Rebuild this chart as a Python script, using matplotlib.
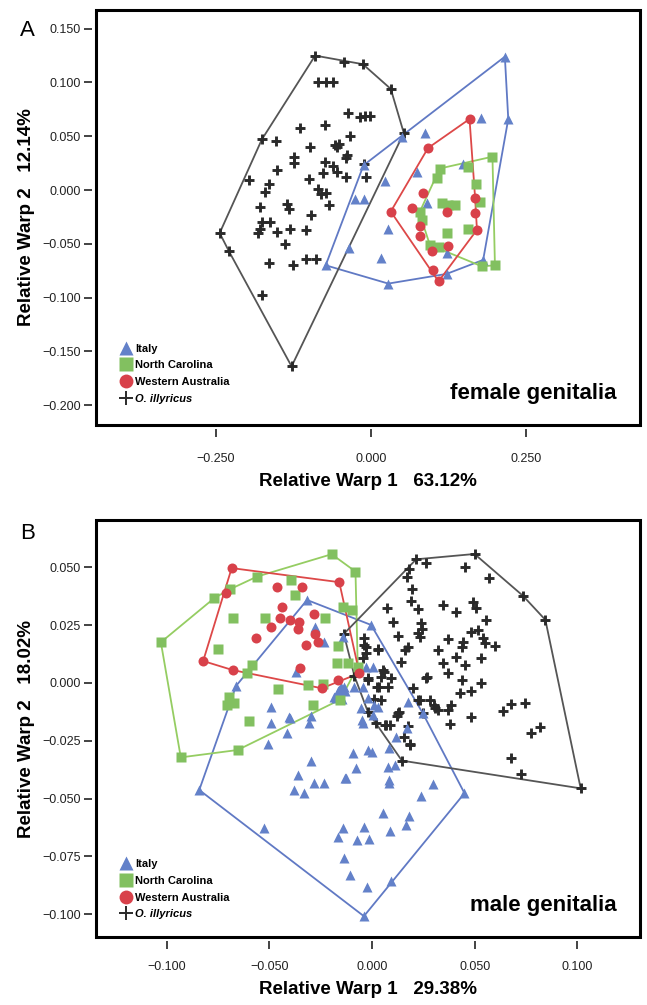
import matplotlib
matplotlib.use("Agg")
import matplotlib.pyplot as plt
import matplotlib.ticker as mticker
from matplotlib.patches import Rectangle
from matplotlib.lines import Line2D
import numpy as np

plt.rcParams['font.family'] = ['Liberation Sans', 'DejaVu Sans']

# ---- panel A: female genitalia ----
a_italy_x = [0.216, 0.2215, 0.177, 0.088, 0.050, -0.012, 0.075, 0.149, 0.023, -0.026, -0.012, 0.090,
             0.028, -0.036, 0.016, -0.073, 0.028, 0.122, 0.122, 0.181]
a_italy_y = [0.124, 0.066, 0.067, 0.053, 0.049, 0.023, 0.017, 0.024, 0.008, -0.008, -0.008, -0.012,
             -0.036, -0.054, -0.063, -0.070, -0.087, -0.059, -0.078, -0.065]

a_nc_x = [0.196, 0.111, 0.157, 0.107, 0.169, 0.114, 0.125, 0.136, 0.176, 0.079, 0.082, 0.122, 0.157,
          0.095, 0.109, 0.179, 0.200]
a_nc_y = [0.031, 0.020, 0.021, 0.011, 0.006, -0.012, -0.014, -0.014, -0.011, -0.020, -0.028, -0.040,
          -0.036, -0.051, -0.053, -0.071, -0.070]

a_wa_x = [0.159, 0.092, 0.084, 0.032, 0.067, 0.123, 0.168, 0.168, 0.171, 0.079, 0.079, 0.098, 0.125,
          0.100, 0.109]
a_wa_y = [0.066, 0.039, -0.003, -0.020, -0.017, -0.020, -0.007, -0.021, -0.037, -0.033, -0.043, -0.057,
          -0.052, -0.074, -0.085]

a_oi_x = [-0.090, -0.044, -0.013, 0.032, -0.085, -0.073, -0.062, -0.037, -0.018, -0.010, -0.001,
          -0.115, -0.074, 0.053, -0.176, -0.153, -0.098, -0.058, -0.051, -0.055, -0.033, -0.124, -0.124,
          -0.039, -0.041, -0.074, -0.061, -0.055, -0.012, -0.008, -0.152, -0.196, -0.100, -0.077, -0.041,
          -0.165, -0.171, -0.085, -0.072, -0.081, -0.067, -0.179, -0.135, -0.132, -0.097, -0.176, -0.163,
          -0.179, -0.182, -0.152, -0.131, -0.105, -0.244, -0.229, -0.139, -0.164, -0.126, -0.105, -0.089,
          -0.176, -0.128]
a_oi_y = [0.125, 0.119, 0.117, 0.094, 0.100, 0.100, 0.100, 0.072, 0.068, 0.069, 0.069,
          0.058, 0.060, 0.053, 0.047, 0.046, 0.040, 0.042, 0.043, 0.040, 0.050, 0.031, 0.025,
          0.033, 0.030, 0.026, 0.022, 0.017, 0.024, 0.012, 0.019, 0.009, 0.010, 0.016, 0.012,
          0.006, -0.002, 0.001, -0.003, -0.004, -0.014, -0.016, -0.013, -0.018, -0.023, -0.030, -0.030,
          -0.036, -0.040, -0.039, -0.036, -0.037, -0.040, -0.057, -0.050, -0.068, -0.070, -0.064, -0.064,
          -0.098, -0.164]

# ---- panel B: male genitalia ----
b_italy_x = [-0.0317, -0.0005, -0.0277, -0.0233, -0.0143, -0.0371, -0.0663, -0.0029, 0.0003, -0.0165,
             -0.0133, -0.0149, -0.0493, -0.0403, -0.0493, -0.0306, -0.0054, -0.0050, 0.0011, -0.0415,
             -0.0506, -0.0298, -0.0184, -0.0160, -0.0135, -0.0086, -0.0045, -0.0045, -0.0094, -0.0019,
             0.0001, -0.0078, -0.0298, -0.0362, -0.0284, -0.0235, -0.0382, -0.0333, -0.0130, 0.0077,
             0.0112, 0.0084, 0.0174, 0.0171, 0.0117, 0.0296, 0.0239, -0.0525, -0.0143, -0.0167,
             -0.0040, -0.0073, -0.0013, 0.0052, 0.0089, 0.0182, 0.0166, -0.0135, -0.0106, -0.0024,
             0.0093, -0.0040, -0.0842, 0.0450, 0.0247, 0.0003, 0.0080, -0.0127, 0.0084, -0.0151,
             -0.0175, -0.0020, 0.0031, -0.0399]
b_italy_y = [0.0359, 0.0251, 0.0244, 0.0179, 0.0200, 0.0047, -0.0013, 0.0071, 0.0071, -0.0035,
             -0.0035, -0.0070, -0.0103, -0.0146, -0.0172, -0.0172, -0.0110, -0.0160, -0.0095, -0.0218,
             -0.0264, -0.0143, -0.0059, -0.0030, -0.0016, -0.0016, -0.0016, -0.0172, -0.0304, -0.0288,
             -0.0298, -0.0369, -0.0336, -0.0398, -0.0432, -0.0432, -0.0463, -0.0475, -0.0410, -0.0362,
             -0.0355, -0.0420, -0.0081, -0.0196, -0.0232, -0.0437, -0.0489, -0.0629, -0.0629, -0.0668,
             -0.0625, -0.0680, -0.0677, -0.0564, -0.0639, -0.0576, -0.0615, -0.0759, -0.0831, -0.0882,
             -0.0856, -0.1009, -0.0463, -0.0477, -0.0131, -0.0139, -0.0283, -0.0413, -0.0434, -0.0016,
             -0.0066, -0.0066, -0.0103, -0.0153]

b_nc_x = [-0.0197, -0.0081, -0.0561, -0.0395, -0.0691, -0.0769, -0.0374, -0.0143, -0.0098, -0.0680,
          -0.0522, -0.0229, -0.1029, -0.0753, -0.0167, -0.0172, -0.0119, -0.0585, -0.0611, -0.0070,
          -0.0314, -0.0238, -0.0460, -0.0696, -0.0672, -0.0707, -0.0289, -0.0599, -0.0655, -0.0932,
          -0.0155]
b_nc_y = [0.0557, 0.0482, 0.0460, 0.0446, 0.0406, 0.0367, 0.0381, 0.0330, 0.0316, 0.0280,
          0.0280, 0.0280, 0.0176, 0.0147, 0.0160, 0.0088, 0.0088, 0.0078, 0.0045, 0.0071,
          -0.0009, -0.0004, -0.0027, -0.0059, -0.0088, -0.0095, -0.0095, -0.0163, -0.0290, -0.0322,
          -0.0072]

b_wa_x = [-0.0684, -0.0160, -0.0712, -0.0465, -0.0341, -0.0439, -0.0284, -0.0447, -0.0399, -0.0358,
          -0.0493, -0.0359, -0.0277, -0.0566, -0.0265, -0.0322, -0.0823, -0.0680, -0.0350, -0.0167,
          -0.0245, -0.0062]
b_wa_y = [0.0497, 0.0436, 0.0388, 0.0413, 0.0413, 0.0330, 0.0299, 0.0280, 0.0273, 0.0263,
          0.0241, 0.0232, 0.0212, 0.0196, 0.0179, 0.0165, 0.0095, 0.0056, 0.0066, 0.0013,
          -0.0023, 0.0042]

b_oi_x = [0.0215, 0.0263, 0.0499, 0.0454, 0.0569, 0.0735, 0.0844, 0.1016, 0.0727, 0.0678, 0.0776,
          0.0816, 0.0638, 0.0678, 0.0746, 0.0145, 0.0185, 0.0068, 0.0020, 0.0125, 0.0044, 0.0024,
          -0.0021, 0.0044, 0.0093, -0.0138, -0.0038, -0.0038, -0.0029, 0.0028, -0.0045, 0.0052, 0.0141,
          0.0199, 0.0231, 0.0301, 0.0320, 0.0369, 0.0382, 0.0247, 0.0380, 0.0483, 0.0268, 0.0369,
          0.0438, 0.0426, 0.0483, 0.0532, 0.0532, 0.0454, 0.0410, 0.0438, 0.0345, 0.0320, 0.0372,
          0.0442, 0.0480, 0.0516, 0.0540, 0.0548, 0.0597, 0.0556, 0.0491, 0.0507, 0.0410, 0.0345,
          0.0239, 0.0223, 0.0242, 0.0231, 0.0101, 0.0125, 0.0073, 0.0223, 0.0190, 0.0194, 0.0171,
          0.0182, 0.0174, 0.0158, -0.0086, -0.0029, 0.0028, 0.0060, -0.0021, 0.0036, 0.0077, 0.0011,
          -0.0021, 0.0133, 0.0122, 0.0063, 0.0089, 0.0177, 0.0155, 0.0187, 0.0223, 0.0280, 0.0304,
          0.0263]
b_oi_y = [0.0535, 0.0518, 0.0558, 0.0503, 0.0456, 0.0377, 0.0273, -0.0456, -0.0394, -0.0326, -0.0218,
          -0.0189, -0.0120, -0.0091, -0.0085, -0.0336, -0.0264, -0.0182, -0.0172, -0.0131, -0.0074, -0.0016,
          0.0020, 0.0027, 0.0020, 0.0212, 0.0193, 0.0165, 0.0129, 0.0146, 0.0107, 0.0056, 0.0092,
          -0.0023, -0.0074, -0.0095, -0.0117, -0.0117, -0.0095, -0.0129, -0.0177, -0.0149, 0.0027, 0.0042,
          0.0013, -0.0045, -0.0033, -0.0001, 0.0107, 0.0078, 0.0114, 0.0157, 0.0085, 0.0143, 0.0189,
          0.0179, 0.0222, 0.0229, 0.0193, 0.0172, 0.0160, 0.0273, 0.0352, 0.0323, 0.0309, 0.0338,
          0.0258, 0.0215, 0.0232, 0.0198, 0.0265, 0.0203, 0.0323, 0.0320, 0.0355, 0.0406, 0.0460,
          0.0492, 0.0157, 0.0143, 0.0030, 0.0157, 0.0143, 0.0049, 0.0013, -0.0016, -0.0016, -0.0071,
          -0.0124, -0.0124, -0.0143, -0.0182, -0.0182, -0.0186, -0.0232, -0.0268, -0.0074, -0.0074, -0.0110,
          0.0020]

labels = ['Italy', 'North Carolina', 'Western Australia', 'O. illyricus']

c_blue, c_green, c_red, c_black = '#6381c9', '#82c060', '#d8414a', '#2a2a2a'
l_blue, l_green, l_red, l_black = '#6079c4', '#95cd62', '#dd4848', '#555555'


def hull(xs, ys):
    pts = sorted(set(zip(xs, ys)))

    def cross(o, a, b):
        return (a[0] - o[0]) * (b[1] - o[1]) - (a[1] - o[1]) * (b[0] - o[0])

    lower, upper = [], []
    for p in pts:
        while len(lower) >= 2 and cross(lower[-2], lower[-1], p) <= 0:
            lower.pop()
        lower.append(p)
    for p in reversed(pts):
        while len(upper) >= 2 and cross(upper[-2], upper[-1], p) <= 0:
            upper.pop()
        upper.append(p)
    h = lower[:-1] + upper[:-1]
    h.append(h[0])
    return [p[0] for p in h], [p[1] for p in h]


def fmt(v, pos):
    if abs(v) < 1e-9:
        v = 0.0
    return ('%.3f' % v).replace('-', '\u2212')


def panel(ax, groups, xlim, ylim, xticks, yticks, xlab, ylab, tag, xpad, legy):
    for gx, gy, lc in groups:
        hx, hy = hull(gx, gy)
        ax.plot(hx, hy, color=lc, lw=1.3, zorder=2)
    styles = [('^', c_blue, 6.8, 0), ('s', c_green, 6.8, 0), ('o', c_red, 7.2, 0), ('+', c_black, 7.5, 2.1)]
    for i in [3, 0, 1, 2]:
        gx, gy, lc = groups[i]
        m, c, ms, mew = styles[i]
        if m == '+':
            ax.plot(gx, gy, ls='none', marker=m, color=c, ms=ms, mew=mew, zorder=3)
        else:
            ax.plot(gx, gy, ls='none', marker=m, color=c, ms=ms, mec='none', zorder=3)
    ax.set_xlim(*xlim)
    ax.set_ylim(*ylim)
    ax.set_xticks(xticks)
    ax.set_yticks(yticks)
    ax.xaxis.set_major_formatter(mticker.FuncFormatter(fmt))
    ax.yaxis.set_major_formatter(mticker.FuncFormatter(fmt))
    for s in ax.spines.values():
        s.set_visible(False)
    ax.spines['left'].set_position(('outward', 3))
    ax.spines['bottom'].set_position(('outward', 3))
    ax.add_patch(Rectangle((0, 0), 1, 1, transform=ax.transAxes, fill=False, lw=2.2,
                           ec='black', clip_on=False, zorder=5))
    ax.tick_params(axis='y', direction='out', length=6, width=1.2, pad=2, labelsize=9, colors='#222222')
    ax.tick_params(axis='x', direction='out', length=6, width=1.2, pad=xpad, labelsize=9, colors='#222222')
    ax.set_xlabel(xlab, fontsize=13.5, fontweight='bold', labelpad=6)
    ax.set_ylabel(ylab, fontsize=13.5, fontweight='bold', labelpad=5)
    handles = [Line2D([], [], ls='none', marker='^', color=c_blue, ms=9.5, mec='none'),
               Line2D([], [], ls='none', marker='s', color=c_green, ms=9.5, mec='none'),
               Line2D([], [], ls='none', marker='o', color=c_red, ms=10, mec='none'),
               Line2D([], [], ls='none', marker='+', color=c_black, ms=10, mew=1.4)]
    leg = ax.legend(handles, labels, loc='lower left',
                    bbox_to_anchor=(0.026, legy), frameon=False,
                    handlelength=0.9, handletextpad=0.35, labelspacing=0.6,
                    prop={'size': 8, 'weight': 'bold'}, borderaxespad=0.6)
    leg.get_texts()[3].set_style('italic')
    ax.text(0.957, 0.075, tag, transform=ax.transAxes, ha='right', va='center',
            fontsize=16, fontweight='bold')


fig = plt.figure(figsize=(6.47, 10.05), dpi=100)
axA = fig.add_axes([96 / 647, 1 - 425 / 1005, 544 / 647, 415 / 1005])
axB = fig.add_axes([96 / 647, 1 - 937 / 1005, 544 / 647, 417 / 1005])

panel(axA,
      [(a_italy_x, a_italy_y, l_blue), (a_nc_x, a_nc_y, l_green), (a_wa_x, a_wa_y, l_red),
       (a_oi_x, a_oi_y, l_black)],
      (-0.4435, 0.434), (-0.2185, 0.1674),
      [-0.25, 0.0, 0.25], [-0.2, -0.15, -0.1, -0.05, 0.0, 0.05, 0.1, 0.15],
      'Relative Warp 1   63.12%', 'Relative Warp 2   12.14%', 'female genitalia', 11, 0.025)

panel(axB,
      [(b_italy_x, b_italy_y, l_blue), (b_nc_x, b_nc_y, l_green), (b_wa_x, b_wa_y, l_red),
       (b_oi_x, b_oi_y, l_black)],
      (-0.1345, 0.1305), (-0.1099, 0.0705),
      [-0.1, -0.05, 0.0, 0.05, 0.1], [-0.1, -0.075, -0.05, -0.025, 0.0, 0.025, 0.05],
      'Relative Warp 1   29.38%', 'Relative Warp 2   18.02%', 'male genitalia', 8, 0.016)

fig.text(20 / 647, 1 - 36 / 1005, 'A', fontsize=16)
fig.text(20 / 647, 1 - 539 / 1005, 'B', fontsize=16)

fig.savefig('out.png', dpi=100)
